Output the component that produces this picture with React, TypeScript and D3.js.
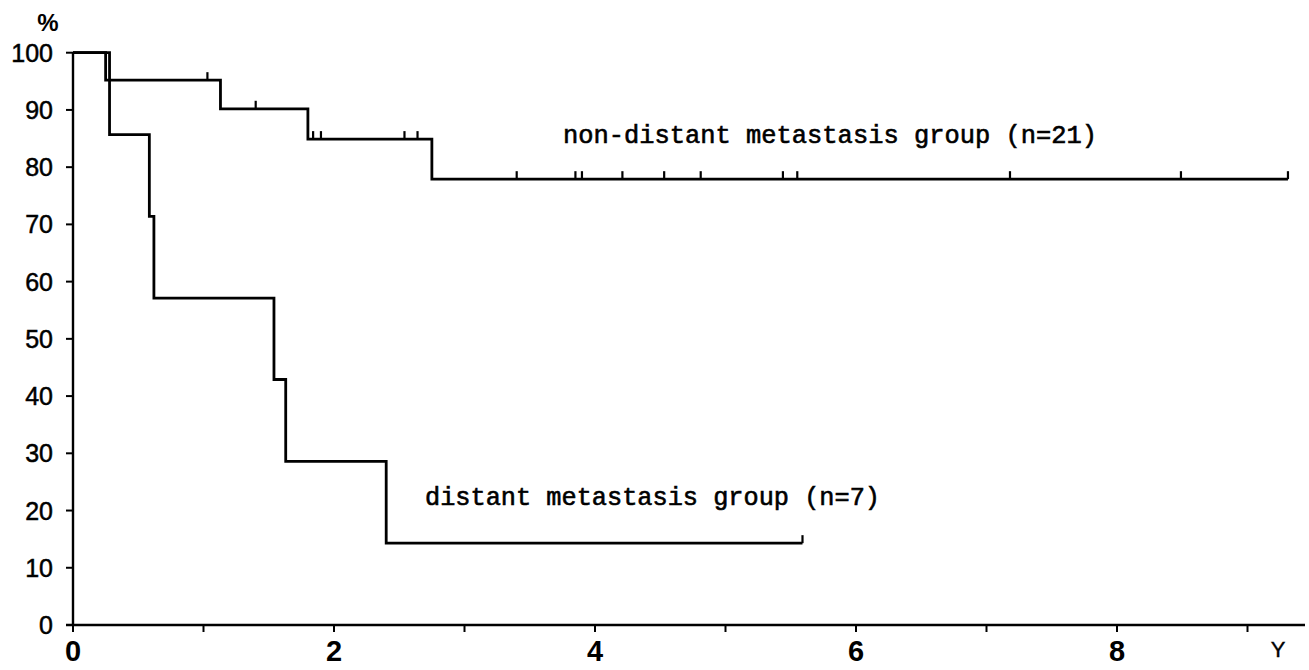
import React from "react";
import * as d3 from "d3";

// Kaplan–Meier step data
const ndTimes = [0, 0.25, 1.13, 1.8, 2.75, 9.31];
const ndSurv = [100, 95.2, 90.2, 84.9, 77.9, 77.9];
const ndCensored = [1.03, 1.4, 1.84, 1.9, 2.54, 2.64, 3.4, 3.85, 3.9, 4.21, 4.53, 4.81, 5.44, 5.55, 7.18, 8.49, 9.31];

const dTimes = [0, 0.28, 0.585, 0.62, 1.54, 1.63, 2.4, 5.59];
const dSurv = [100, 85.7, 71.4, 57.1, 42.9, 28.6, 14.3, 14.3];
const dCensored = [5.59];

const yTicks = [0, 10, 20, 30, 40, 50, 60, 70, 80, 90, 100];
const xTicks = [0, 1, 2, 3, 4, 5, 6, 7, 8, 9];
const xLabels = [0, 2, 4, 6, 8];

const labelND = "non-distant metastasis group (n=21)";
const labelD = "distant metastasis group (n=7)";

const W = 1309;
const H = 670;

const x = d3.scaleLinear().domain([0, 9]).range([73, 1247.5]);
const y = d3.scaleLinear().domain([0, 100]).range([625, 52.7]);

const stepLine = d3
  .line<[number, number]>()
  .x((d) => x(d[0]))
  .y((d) => y(d[1]))
  .curve(d3.curveStepAfter);

function survAt(times: number[], surv: number[], t: number): number {
  let s = surv[0];
  for (let i = 0; i < times.length; i++) {
    if (times[i] <= t) s = surv[i];
  }
  return s;
}

function Curve({ times, surv, censored }: { times: number[]; surv: number[]; censored: number[] }) {
  const pts = times.map((t, i) => [t, surv[i]] as [number, number]);
  return (
    <g>
      <path d={stepLine(pts) || ""} fill="none" stroke="#000" strokeWidth={2.8} />
      {censored.map((t, i) => {
        const s = survAt(times, surv, t);
        return (
          <line key={i} x1={x(t)} x2={x(t)} y1={y(s)} y2={y(s) - 8} stroke="#000" strokeWidth={2.2} />
        );
      })}
    </g>
  );
}

export default function App() {
  const tickFont = "'Liberation Sans', Arial, sans-serif";
  const monoFont = "'Liberation Mono', 'DejaVu Sans Mono', monospace";
  return (
    <svg
      width={W}
      height={H}
      style={{ position: "absolute", left: 0, top: 0, background: "#fff" }}
    >
      <rect x={0} y={0} width={W} height={H} fill="#fff" />
      {/* axes */}
      <line x1={x(0)} x2={x(0)} y1={y(0)} y2={y(100)} stroke="#000" strokeWidth={2.4} />
      <line x1={x(0) - 7} x2={1305} y1={y(0)} y2={y(0)} stroke="#000" strokeWidth={2.4} />
      {yTicks.map((v) => (
        <g key={"y" + v}>
          <line x1={x(0) - 7} x2={x(0)} y1={y(v)} y2={y(v)} stroke="#000" strokeWidth={2} />
          <text
            x={53}
            y={y(v)}
            dy="0.36em"
            textAnchor="end"
            fontFamily={tickFont}
            fontSize={25}
            stroke="#000"
            strokeWidth={0.5}
            fill="#000"
          >
            {v}
          </text>
        </g>
      ))}
      {xTicks.map((v) => (
        <line key={"x" + v} x1={x(v)} x2={x(v)} y1={y(0)} y2={y(0) + 7} stroke="#000" strokeWidth={2} />
      ))}
      {xLabels.map((v) => (
        <text
          key={"xl" + v}
          x={x(v)}
          y={661}
          textAnchor="middle"
          fontFamily={tickFont}
          fontSize={29}
          fontWeight="bold"
          fill="#000"
        >
          {v}
        </text>
      ))}
      <text x={1278} y={657} textAnchor="middle" fontFamily={tickFont} fontSize={22} fill="#000" stroke="#000" strokeWidth={0.4}>
        Y
      </text>
      <text x={48} y={31} textAnchor="middle" fontFamily={tickFont} fontSize={24} fontWeight="bold" fill="#000">
        %
      </text>

      <Curve times={ndTimes} surv={ndSurv} censored={ndCensored} />
      <Curve times={dTimes} surv={dSurv} censored={dCensored} />

      <text
        x={563}
        y={143}
        fontFamily={monoFont}
        fontSize={25}
        textLength={534}
        lengthAdjust="spacingAndGlyphs"
        stroke="#000"
        strokeWidth={0.6}
        fill="#000"
      >
        {labelND}
      </text>
      <text
        x={425}
        y={505}
        fontFamily={monoFont}
        fontSize={25}
        textLength={455}
        lengthAdjust="spacingAndGlyphs"
        stroke="#000"
        strokeWidth={0.6}
        fill="#000"
      >
        {labelD}
      </text>
    </svg>
  );
}
